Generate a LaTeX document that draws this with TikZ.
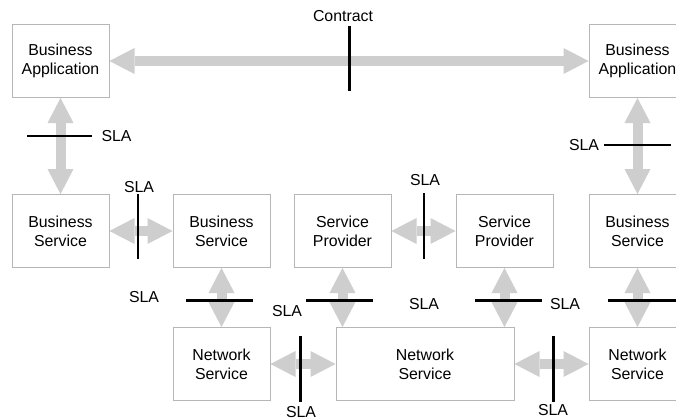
\documentclass[tikz,border=0pt]{standalone}
\usepackage{fontspec}
\setmainfont{Liberation Sans}
\usetikzlibrary{arrows.meta}
\definecolor{boxline}{RGB}{182,182,182}
\definecolor{flow}{RGB}{206,206,206}
\tikzset{
  unit/.style={draw=boxline, line width=0.75pt, fill=white, inner sep=0pt,
    minimum width=72.75pt, minimum height=54.75pt, align=center,
    font=\fontsize{11.9}{14.5}\selectfont},
  wideunit/.style={unit, minimum width=133.5pt},
  link/.style={draw=flow, line width=7.5pt,
    {Triangle[width=19.5pt,length=18.75pt,line width=0pt]}-{Triangle[width=19.5pt,length=18.75pt,line width=0pt]}},
  cut/.style={draw=black, line width=1.9pt},
  tag/.style={inner sep=0pt, font=\fontsize{11.9}{14.5}\selectfont}
}
\begin{document}
\begin{tikzpicture}[x=0.75pt, y=-0.75pt]
\useasboundingbox (0,0) rectangle (676,419);
\clip (0,0) rectangle (676,419);
\fill[white] (0,0) rectangle (676,419);

% applications
\node[unit] (baL) at (60.5,61) {Business\\Application};
\node[unit] (baR) at (637.5,61) {Business\\Application};
% services and providers
\node[unit] (bsL) at (60.5,231) {Business\\Service};
\node[unit] (bsM) at (221.5,231) {Business\\Service};
\node[unit] (spA) at (342.5,231) {Service\\Provider};
\node[unit] (spB) at (504.5,231) {Service\\Provider};
\node[unit] (bsR) at (637.5,231) {Business\\Service};
% network layer
\node[unit] (nsL) at (221.5,364) {Network\\Service};
\node[wideunit] (nsM) at (425,364) {Network\\Service};
\node[unit] (nsR) at (637.5,364) {Network\\Service};

% two-way flows
\draw[link] (baL.east) -- (baR.west);
\draw[link] (baL.south) -- (bsL.north);
\draw[link] (baR.south) -- (bsR.north);
\draw[link] (bsL.east) -- (bsM.west);
\draw[link] (spA.east) -- (spB.west);
\draw[link] (bsM.south) -- (nsL.north);
\draw[link] (spA.south) -- (spA.south |- nsM.north);
\draw[link] (spB.south) -- (spB.south |- nsM.north);
\draw[link] (bsR.south) -- (nsR.north);
\draw[link] (nsL.east) -- (nsM.west);
\draw[link] (nsM.east) -- (nsR.west);

% agreement boundaries
\draw[cut] (349.5,26) -- (349.5,91);
\draw[cut] (27,136) -- (92,136);
\draw[cut] (604,145) -- (671,145);
\draw[cut] (138,194) -- (138,259);
\draw[cut] (424,193) -- (424,259);
\draw[cut] (186,300.7) -- (253,300.7);
\draw[cut] (306,300.7) -- (373,300.7);
\draw[cut] (475,300.7) -- (542,300.7);
\draw[cut] (608,300.7) -- (680,300.7);
\draw[cut] (300.7,336) -- (300.7,402);
\draw[cut] (553.5,336) -- (553.5,402);

% labels
\node[tag] (lc) at (343,16) {Contract};
\node[tag] (l1) at (116.5,136) {SLA};
\node[tag] (l2) at (139,187) {SLA};
\node[tag] (l3) at (425,180) {SLA};
\node[tag] (l4) at (584,145) {SLA};
\node[tag] (l5) at (144,297) {SLA};
\node[tag] (l6) at (287,311) {SLA};
\node[tag] (l7) at (424,304) {SLA};
\node[tag] (l8) at (565,304) {SLA};
\node[tag] (l9) at (301,412) {SLA};
\node[tag] (l10) at (553,410) {SLA};
\end{tikzpicture}
\end{document}
